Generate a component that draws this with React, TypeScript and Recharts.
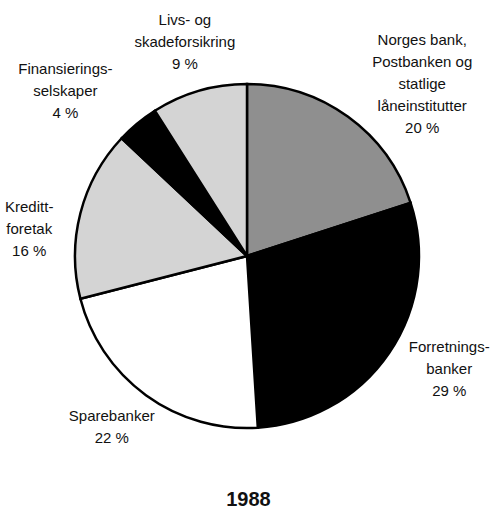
import { PieChart, Pie, Cell } from 'recharts';

// Share of lending by sector, 1988 (clockwise from 12 o'clock)
const categories = [
    'Norges bank,\nPostbanken og\nstatlige\nlåneinstitutter',
    'Forretnings-\nbanker',
    'Sparebanker',
    'Kreditt-\nforetak',
    'Finansierings-\nselskaper',
    'Livs- og\nskadeforsikring',
];
const shares = [20, 29, 22, 16, 4, 9];
const year = '1988';

const fills = ['#8f8f8f', '#000000', '#ffffff', '#d4d4d4', '#000000', '#d4d4d4'];

// small hand nudges so labels sit where the original printed them
const labelNudge = [
    [40, 14],
    [12, -16],
    [0, -15],
    [5, 30],
    [-35, 12],
    [2, 7],
];

const chartData = categories.map((name, i) => ({ name, value: shares[i] }));

const RADIAN = Math.PI / 180;
const FONT = '"Liberation Sans", Arial, Helvetica, sans-serif';

function renderLabel(props: any) {
    const { cx, cy, midAngle, index, value } = props;
    const r = 230;
    const [nx, ny] = labelNudge[index];
    const x = cx + r * Math.cos(-midAngle * RADIAN) + nx;
    const y = cy + r * Math.sin(-midAngle * RADIAN) + ny;
    const lines = [...categories[index].split('\n'), `${value} %`];
    const lh = 22;
    const y0 = y - ((lines.length - 1) * lh) / 2 + 5;
    return (
        <text key={`lbl-${index}`} x={x} y={y0} textAnchor="middle" fill="#111" fontSize={15} fontFamily={FONT}>
            {lines.map((l, i) => (
                <tspan key={i} x={x} y={y0 + i * lh}>{l}</tspan>
            ))}
        </text>
    );
}

export default function App() {
    return (
        <div style={{ position: 'absolute', left: 0, top: 0, width: 497, height: 509, background: '#fff' }}>
            <PieChart width={497} height={509} margin={{ top: 0, right: 0, bottom: 0, left: 0 }}>
                <Pie
                    data={chartData}
                    dataKey="value"
                    nameKey="name"
                    cx={247}
                    cy={256}
                    outerRadius={172}
                    startAngle={90}
                    endAngle={-270}
                    stroke="#000"
                    strokeWidth={2.5}
                    label={renderLabel}
                    labelLine={false}
                    isAnimationActive={false}
                >
                    {chartData.map((d, i) => (
                        <Cell key={d.name} fill={fills[i]} />
                    ))}
                </Pie>
            </PieChart>
            <div style={{
                position: 'absolute', left: 0, width: 497, top: 488, textAlign: 'center',
                fontFamily: FONT, fontWeight: 'bold', fontSize: 20, lineHeight: '23px', color: '#111'
            }}>
                {year}
            </div>
        </div>
    );
}
